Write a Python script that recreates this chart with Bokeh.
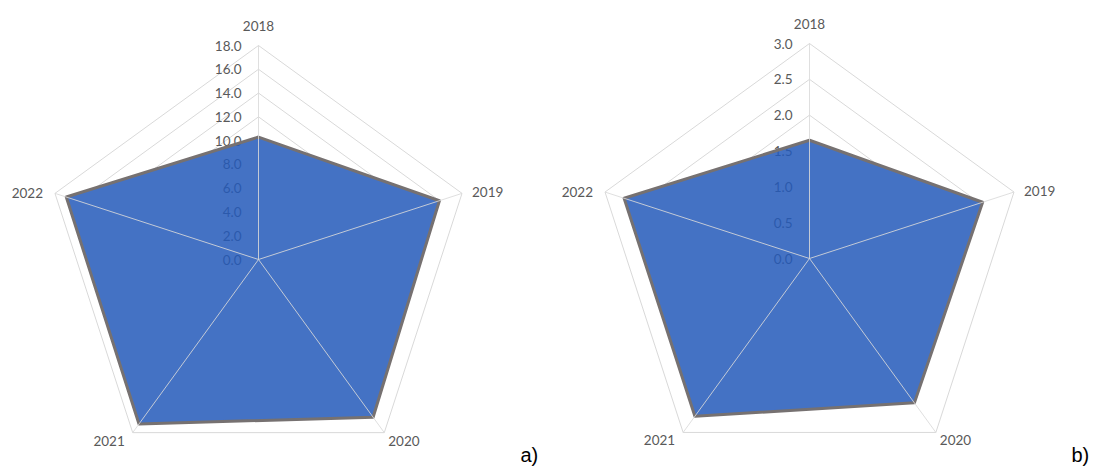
import math
from bokeh.plotting import figure
from bokeh.models import Range1d
from bokeh.core.properties import value
from bokeh.embed import file_html
from bokeh.resources import INLINE

categories = ["2018", "2019", "2020", "2021", "2022"]
values_a = [10.3, 16.0, 16.4, 17.1, 17.0]
values_b = [1.65, 2.54, 2.49, 2.72, 2.72]
ticks_a = [0, 2, 4, 6, 8, 10, 12, 14, 16, 18]
ticks_b = [0, 0.5, 1.0, 1.5, 2.0, 2.5, 3.0]
panel_labels = ["a)", "b)"]

W, H = 1093, 466
p = figure(width=W, height=H, output_backend="svg", toolbar_location=None,
           x_range=Range1d(0, W), y_range=Range1d(H, 0),
           min_border=0)
p.axis.visible = False
p.grid.visible = False
p.outline_line_color = None
p.background_fill_color = "white"

FONT = value("Lato")
GRID = "#d9d9d9"
TXT = "#595959"


def radar(cx, cy, R, vals, ticks, label, lab_xy):
    vmax = ticks[-1]
    n = len(categories)
    angs = [math.radians(90 - 72 * i) for i in range(n)]

    def pt(v, a):
        r = v / vmax * R
        return cx + r * math.cos(a), cy - r * math.sin(a)

    # grid rings
    for t in ticks[1:]:
        xs, ys = zip(*[pt(t, a) for a in angs + [angs[0]]])
        p.line(list(xs), list(ys), line_color=GRID, line_width=1)
    xs, ys = zip(*[pt(v, a) for v, a in zip(vals, angs)])
    # white under-layer hides rings inside the series area
    p.patch(list(xs), list(ys), fill_color="white", line_color=None)
    # tick labels (under the semi-transparent fill)
    p.text([cx - 17] * len(ticks), [cy - t / vmax * R for t in ticks],
           text=[f"{t:.1f}" for t in ticks], text_font=FONT,
           text_font_size="13.5px", text_color=TXT, text_align="right",
           text_baseline="middle")
    # filled series
    p.patch(list(xs), list(ys), fill_color="#2359BA", fill_alpha=0.85,
            line_color="#767171", line_width=3, line_join="round")
    # spokes
    for a in angs:
        x1, y1 = pt(vmax, a)
        p.line([cx, x1], [cy, y1], line_color=GRID, line_width=1, line_alpha=0.85)
    # category labels
    specs = [("center", "bottom", 0, -15), ("left", "middle", 10, -1),
             ("left", "top", 4, 3), ("right", "top", -8, 3),
             ("right", "middle", -12, 0)]
    for c, a, (al, bl, ox, oy) in zip(categories, angs, specs):
        x1, y1 = pt(vmax, a)
        p.text([x1 + ox], [y1 + oy], text=[c], text_font=FONT,
               text_font_size="13.5px", text_color=TXT, text_align=al,
               text_baseline=bl)
    p.text([lab_xy[0]], [lab_xy[1]], text=[label],
           text_font=value("Liberation Sans"), text_font_size="20px",
           text_color="black", text_align="left", text_baseline="alphabetic")


radar(258, 259, 214, values_a, ticks_a, panel_labels[0], (520, 454))
radar(809, 258, 215, values_b, ticks_b, panel_labels[1], (1071, 454))

open("out.html", "w").write(file_html(p, INLINE))
